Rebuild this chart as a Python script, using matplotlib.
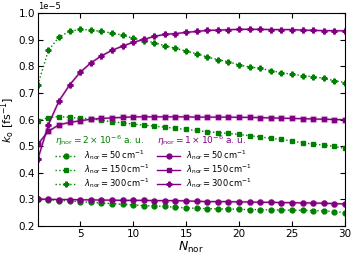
import numpy as np
import matplotlib.pyplot as plt

n_nor = np.arange(1, 31)

# eta_nor = 2e-6 a.u. (green, dotted)
g50 = [0.300, 0.299, 0.295, 0.294, 0.291, 0.289, 0.286, 0.284, 0.281, 0.279,
       0.276, 0.275, 0.273, 0.270, 0.2675, 0.2663, 0.265, 0.2638, 0.2638, 0.2625,
       0.2613, 0.2613, 0.260, 0.260, 0.2588, 0.2588, 0.2575, 0.2563, 0.2538, 0.250]
g150 = [0.594, 0.6075, 0.611, 0.608, 0.605, 0.602, 0.598, 0.591, 0.5875, 0.5825,
        0.579, 0.575, 0.571, 0.567, 0.5626, 0.559, 0.5536, 0.551, 0.5475, 0.544,
        0.539, 0.535, 0.529, 0.525, 0.519, 0.5125, 0.5075, 0.504, 0.499, 0.491]
g300 = [0.731, 0.860, 0.910, 0.932, 0.939, 0.936, 0.931, 0.925, 0.917, 0.906,
        0.897, 0.889, 0.877, 0.868, 0.857, 0.8475, 0.835, 0.825, 0.8175, 0.805,
        0.7975, 0.7925, 0.784, 0.776, 0.770, 0.765, 0.761, 0.755, 0.746, 0.739]

# eta_nor = 1e-6 a.u. (purple, solid)
p50 = [0.301, 0.300, 0.299, 0.299, 0.298, 0.298, 0.297, 0.297, 0.296, 0.296,
       0.296, 0.295, 0.295, 0.295, 0.294, 0.2925, 0.2913, 0.2913, 0.2913, 0.290,
       0.290, 0.2888, 0.2888, 0.2875, 0.2875, 0.2863, 0.2863, 0.285, 0.2838, 0.2825]
p150 = [0.5075, 0.556, 0.580, 0.589, 0.595, 0.601, 0.604, 0.606, 0.608, 0.610,
        0.610, 0.610, 0.610, 0.610, 0.610, 0.609, 0.609, 0.609, 0.609, 0.608,
        0.608, 0.607, 0.606, 0.605, 0.604, 0.603, 0.602, 0.601, 0.600, 0.599]
p300 = [0.451, 0.581, 0.670, 0.730, 0.7775, 0.8125, 0.839, 0.860, 0.876, 0.890,
        0.901, 0.9125, 0.920, 0.923, 0.9275, 0.931, 0.935, 0.936, 0.9375, 0.939,
        0.939, 0.939, 0.938, 0.938, 0.938, 0.936, 0.935, 0.934, 0.934, 0.933]

lam_labels = [r'$\lambda_{\rm nor} = 50\,{\rm cm}^{-1}$',
              r'$\lambda_{\rm nor} = 150\,{\rm cm}^{-1}$',
              r'$\lambda_{\rm nor} = 300\,{\rm cm}^{-1}$']
markers = ['o', 's', 'P']

plt.rcParams['font.size'] = 7.5
fig = plt.figure(figsize=(3.57, 2.57), dpi=100)
ax = fig.add_axes([0.106, 0.121, 0.86, 0.828])

green_lines = []
for vals, m, lab in zip([g50, g150, g300], markers, lam_labels):
    ln, = ax.plot(n_nor, np.array(vals) * 1e-5, ':', color='green', marker=m,
                  markersize=3.5, lw=1.0, label=lab)
    green_lines.append(ln)

purple_lines = []
for vals, m, lab in zip([p50, p150, p300], markers, lam_labels):
    # light halo under the purple curves
    ax.plot(n_nor, np.array(vals) * 1e-5, '-', color='#d9a6d9', lw=2.0,
            marker=m, markersize=4.3, mec='#d9a6d9', alpha=0.5, zorder=1.5)
    ln, = ax.plot(n_nor, np.array(vals) * 1e-5, '-', color='purple', marker=m,
                  markersize=3.5, lw=1.0, label=lab, zorder=2.5)
    purple_lines.append(ln)

ax.set_xlim(1, 30)
ax.set_ylim(0.2e-5, 1.0e-5)
ax.set_xticks([5, 10, 15, 20, 25, 30])
ax.set_yticks(np.arange(0.2, 1.01, 0.1) * 1e-5)
ax.tick_params(direction='in', top=True, right=True, labelsize=7.5, pad=2)
ax.yaxis.get_offset_text().set_fontsize(6)
ax.set_xlabel(r'$N_{\rm nor}$', fontsize=9, labelpad=1)
ax.set_ylabel(r'$k_{\rm o}$ [fs$^{-1}$]', fontsize=8, labelpad=1)

leg_kw = dict(loc='upper left', frameon=False, fontsize=6, handlelength=2.7,
              handletextpad=0.8, labelspacing=0.0, borderpad=0.2,
              title_fontsize=6.5, alignment='left')
leg1 = ax.legend(handles=green_lines, bbox_to_anchor=(0.036, 0.46),
                 title=r'$\eta_{\rm nor} = 2\times10^{-6}$ a. u.', **leg_kw)
leg1.get_title().set_color('green')
ax.add_artist(leg1)
leg2 = ax.legend(handles=purple_lines, bbox_to_anchor=(0.37, 0.46),
                 title=r'$\eta_{\rm nor} = 1\times10^{-6}$ a. u.', **leg_kw)
leg2.get_title().set_color('purple')

fig.savefig('out.png', dpi=100)
